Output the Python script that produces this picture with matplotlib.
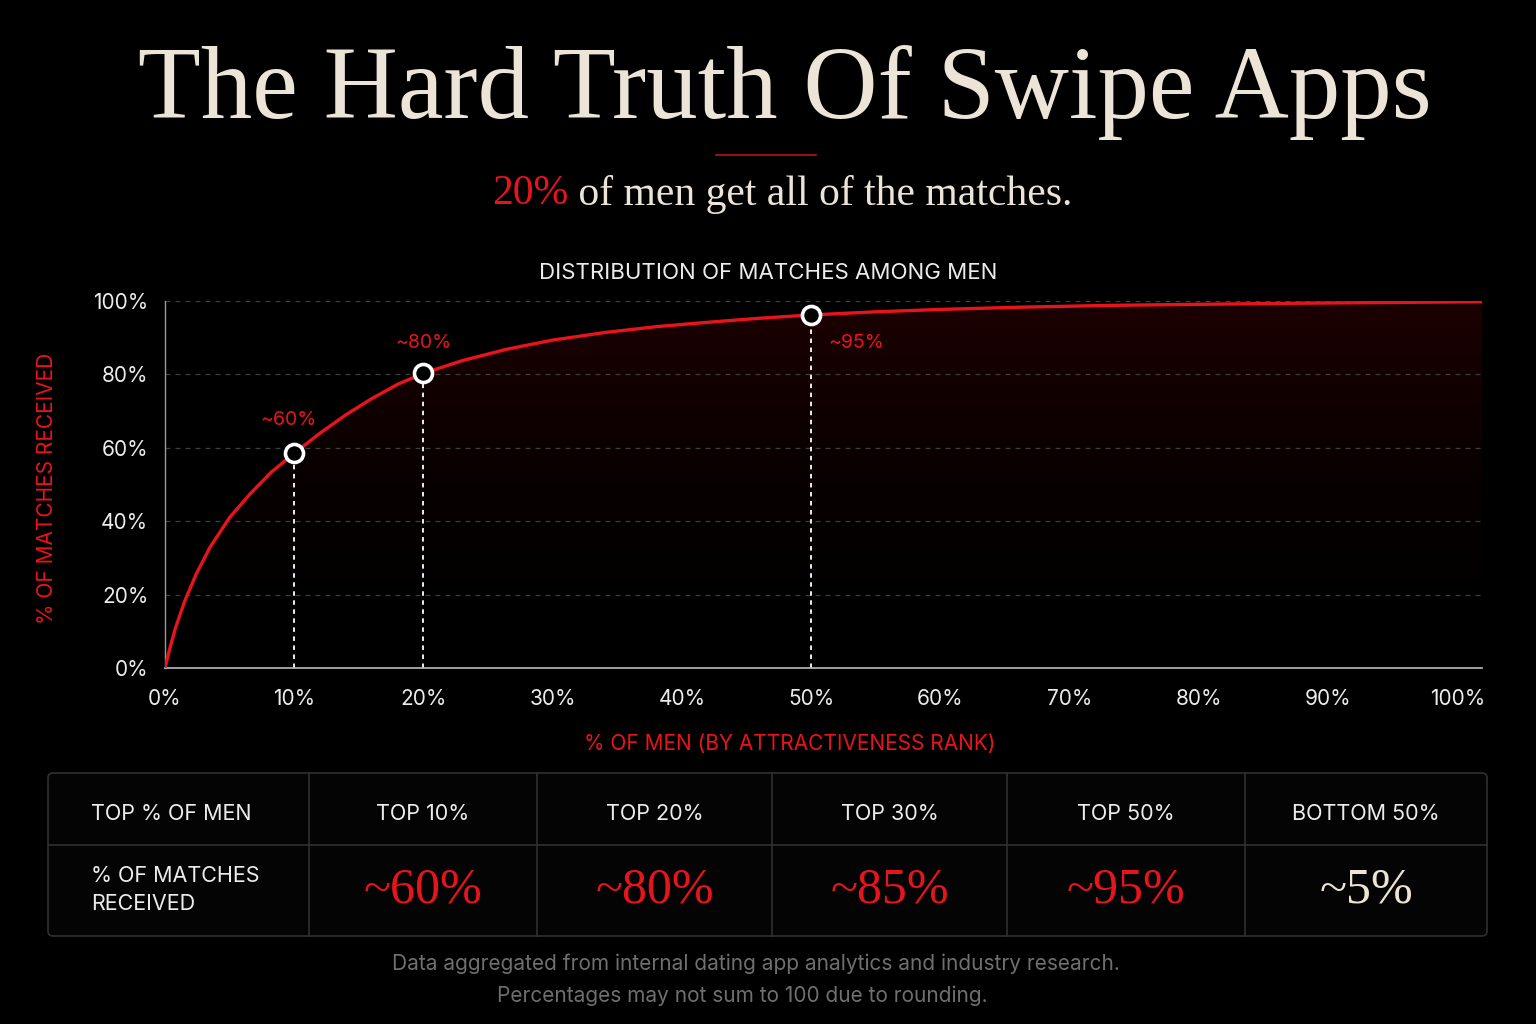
import matplotlib
matplotlib.use('Agg')
import matplotlib.pyplot as plt
import numpy as np
from matplotlib.colors import LinearSegmentedColormap
from matplotlib.patches import FancyBboxPatch

# curve: share of men (ranked) vs share of matches
men_pct = [0, 0.3, 0.8, 1.5, 2.4, 3.5, 5.0, 6.6, 8.2, 10, 12, 14, 16, 18, 20,
           23, 26.5, 30, 34, 38, 42, 46, 50, 55, 60, 66, 73, 80, 88, 95, 101.9]
matches_pct = [0, 4.3, 10.8, 18.0, 25.5, 33.0, 41.0, 47.5, 53.3, 58.5, 64.0, 69.0,
               73.4, 77.3, 80.3, 83.75, 86.9, 89.35, 91.4, 93.0, 94.2, 95.3, 96.2,
               97.05, 97.7, 98.3, 98.8, 99.1, 99.4, 99.6, 99.8]

mark_x = [10, 20, 50]
mark_y = [58.5, 80.3, 96.2]
mark_labels = ['~60%', '~80%', '~95%']

x_ticks = [0, 10, 20, 30, 40, 50, 60, 70, 80, 90, 100]
y_ticks = [0, 20, 40, 60, 80, 100]

table_head = ['TOP % OF MEN', 'TOP 10%', 'TOP 20%', 'TOP 30%', 'TOP 50%', 'BOTTOM 50%']
table_vals = ['~60%', '~80%', '~85%', '~95%', '~5%']
row_label = '% OF MATCHES\nRECEIVED'

RED = '#e8141c'
CREAM = '#ede4d8'
WHITE = '#ececec'
SANS = ['Inter', 'DejaVu Sans']
SERIF = ['Liberation Serif', 'DejaVu Serif']

fig = plt.figure(figsize=(15.36, 10.24), dpi=100, facecolor='black')

# overlay in pixel coords for titles, table, notes
ov = fig.add_axes([0, 0, 1, 1])
ov.set_xlim(0, 1536)
ov.set_ylim(1024, 0)
ov.axis('off')
ov.set_facecolor('none')

ov.text(785, 92, 'The Hard Truth Of Swipe Apps', color=CREAM, fontsize=74,
        family=SERIF, ha='center', va='center')
ov.plot([716, 816], [155, 155], color='#b8141a', lw=1.2)

# subtitle with red lead
renderer = fig.canvas.get_renderer()
t1 = ov.text(0, 194, '20%', color=RED, fontsize=30, family=SERIF, va='center')
t2 = ov.text(0, 194, ' of men get all of the matches.', color=CREAM, fontsize=30,
             family=SERIF, va='center')
w1 = t1.get_window_extent(renderer).width
w2 = t2.get_window_extent(renderer).width
x0 = 782 - (w1 + w2) / 2
t1.set_x(x0)
t2.set_x(x0 + w1)

ov.text(768, 273, 'DISTRIBUTION OF MATCHES AMONG MEN', color=WHITE, fontsize=16,
        family=SANS, ha='center', va='center')

# main chart
ax = fig.add_axes([165 / 1536, 1 - 668 / 1024, 1317 / 1536, 367 / 1024])
ax.set_facecolor('black')
ax.set_xlim(0, 101.9)
ax.set_ylim(0, 100)

cmap = LinearSegmentedColormap.from_list('fade', ['#000000', '#0a0000', '#1c0002'])
yy = np.linspace(0, 100, 300)
grad = np.clip((yy - 15) / 85, 0, 1).reshape(-1, 1)
img = ax.imshow(grad, extent=[0, 101.9, 0, 100], origin='lower', aspect='auto',
                cmap=cmap, vmin=0, vmax=1, zorder=0.2)
poly = ax.fill_between(men_pct, matches_pct, 0, color='none', lw=0)
img.set_clip_path(poly.get_paths()[0], transform=ax.transData)

ax.set_yticks(y_ticks)
ax.set_xticks(x_ticks)
ax.set_yticklabels([str(v) + '%' for v in y_ticks])
ax.set_xticklabels([str(v) + '%' for v in x_ticks])
ax.tick_params(length=0, colors=WHITE, labelsize=15)
ax.tick_params(axis='x', pad=15)
ax.tick_params(axis='y', pad=12)
for lab in ax.get_xticklabels() + ax.get_yticklabels():
    lab.set_family(SANS)
ax.yaxis.grid(True, color='#3e3e3e', lw=0.9, ls=(0, (4, 4)))
ax.set_axisbelow(True)
for s in ['top', 'right']:
    ax.spines[s].set_visible(False)
ax.spines['left'].set_color('#9a9a9a')
ax.spines['bottom'].set_color('#bdbdbd')
ax.spines['left'].set_linewidth(1)
ax.spines['bottom'].set_linewidth(1.2)

ax.plot(men_pct, matches_pct, color=RED, lw=2.4, zorder=3,
        solid_capstyle='round', solid_joinstyle='round')
for mx, my in zip(mark_x, mark_y):
    ax.plot([mx, mx], [0, my], color='white', lw=1.3, ls=(0, (2.5, 2.5)), zorder=2)
ax.plot(mark_x, mark_y, 'o', ms=13, mfc='black', mec='white', mew=2.6, zorder=5)

offsets = [(-4, 24), (0, 22), (12, -20)]
aligns = ['center', 'center', 'left']
for mx, my, lab, off, ha in zip(mark_x, mark_y, mark_labels, offsets, aligns):
    ax.annotate(lab, (mx, my), xytext=off, textcoords='offset points', color=RED,
                fontsize=14, family=SANS, ha=ha, va='center')

ax.set_ylabel('% OF MATCHES RECEIVED', color=RED, fontsize=15, family=SANS)
ax.yaxis.set_label_coords(-108 / 1317, 0.49)
ax.set_xlabel('% OF MEN (BY ATTRACTIVENESS RANK)', color=RED, fontsize=15, family=SANS)
ax.xaxis.set_label_coords((790 - 165) / 1317, -66 / 367)

# summary table
tx0, tx1, ty0, ty1, ymid = 48, 1487, 773, 936, 845
col_edges = [48, 309, 537, 772, 1007, 1245, 1487]
ov.add_patch(FancyBboxPatch((tx0, ty0), tx1 - tx0, ty1 - ty0,
                            boxstyle='round,pad=0,rounding_size=5',
                            fc='#040404', ec='#303030', lw=1.2))
ov.plot([tx0, tx1], [ymid, ymid], color='#303030', lw=1.2)
for xe in col_edges[1:-1]:
    ov.plot([xe, xe], [ty0, ty1], color='#303030', lw=1.2)

for i, head in enumerate(table_head):
    if i == 0:
        ov.text(91, 814, head, color=WHITE, fontsize=15.5, family=SANS, ha='left', va='center')
    else:
        xc = (col_edges[i] + col_edges[i + 1]) / 2
        ov.text(xc, 814, head, color=WHITE, fontsize=15.5, family=SANS, ha='center', va='center')

ov.text(91, 890, row_label, color=WHITE, fontsize=15.5, family=SANS, ha='left',
        va='center', linespacing=1.55)
for i, val in enumerate(table_vals):
    xc = (col_edges[i + 1] + col_edges[i + 2]) / 2
    col = CREAM if i == len(table_vals) - 1 else RED
    ov.text(xc, 890, val, color=col, fontsize=36, family=SERIF, ha='center', va='center')

ov.text(756, 964, 'Data aggregated from internal dating app analytics and industry research.',
        color='#6f6f6f', fontsize=15, family=SANS, ha='center', va='center')
ov.text(742, 996, 'Percentages may not sum to 100 due to rounding.',
        color='#6f6f6f', fontsize=15, family=SANS, ha='center', va='center')

fig.savefig('out.png', dpi=100, facecolor='black')
